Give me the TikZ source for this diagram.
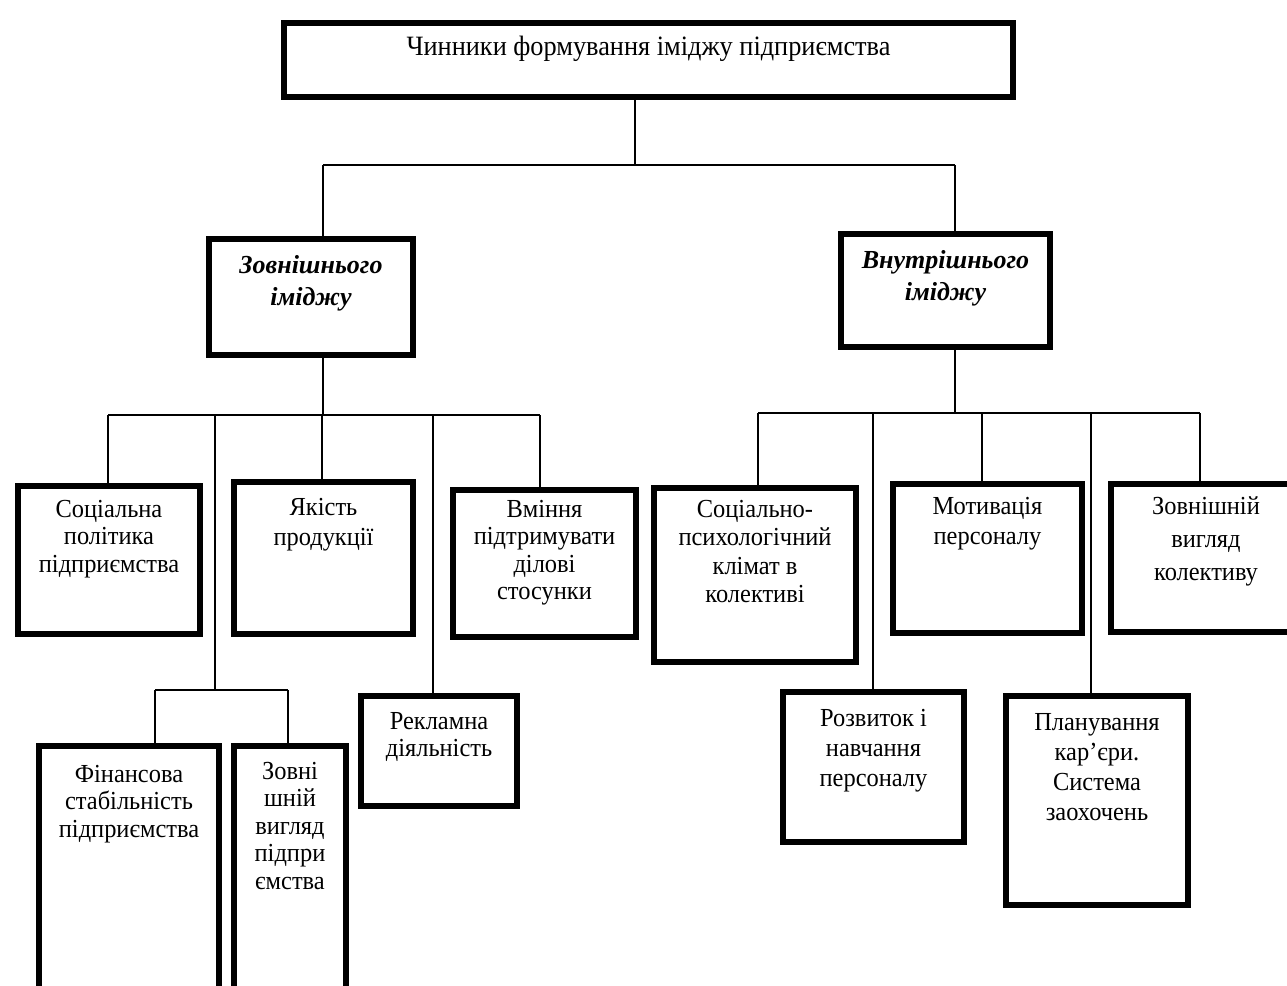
\documentclass[tikz,border=0pt]{standalone}
\usepackage{fontspec}
\setmainfont{Liberation Serif}
\newfontfamily\boxserif[FakeStretch=0.94]{Liberation Serif}
\begin{document}
\begin{tikzpicture}[x=1pt,y=-1pt,
  box/.style={draw, line width=6pt, rectangle, inner sep=0pt, anchor=north west},
  lbl/.style={align=center, inner sep=0pt, anchor=north,
    execute at begin node={\rule{0pt}{20pt}},
    font=\boxserif\fontsize{26}{27.5}\selectfont},
  head/.style={lbl, font=\rmfamily\fontsize{26}{32}\selectfont\bfseries\itshape},
  conn/.style={line width=1.8pt}]
\useasboundingbox (0,0) rectangle (1287,985);
\clip (0,0) rectangle (1287,985);

% --- boxes ---
\node[box, minimum width=729pt, minimum height=74pt] (top) at (281,20) {};
\node[lbl, font=\boxserif\fontsize{28}{30}\selectfont] (topT) at ([yshift=-15pt]top.north) {Чинники формування іміджу підприємства};

\node[box, minimum width=204pt, minimum height=116pt] (zout) at (206,236) {};
\node[head] (zoutT) at ([yshift=-19pt]zout.north) {Зовнішнього\\ іміджу};

\node[box, minimum width=209pt, minimum height=113pt] (vin) at (838,231) {};
\node[head] (vinT) at ([yshift=-19pt]vin.north) {Внутрішнього\\ іміджу};

% external image factors
\node[box, minimum width=182pt, minimum height=148pt] (soc) at (15,483) {};
\node[lbl] (socT) at ([yshift=-17pt]soc.north) {Соціальна\\ політика\\ підприємства};

\node[box, minimum width=179pt, minimum height=152pt] (yak) at (231,479) {};
\node[lbl, font=\boxserif\fontsize{26}{30}\selectfont] (yakT) at ([yshift=-19pt]yak.north) {Якість\\ продукції};

\node[box, minimum width=183pt, minimum height=147pt] (vmin) at (450,487) {};
\node[lbl] (vminT) at ([yshift=-13pt]vmin.north) {Вміння\\ підтримувати\\ ділові\\ стосунки};

\node[box, minimum width=180pt, minimum height=270pt] (fin) at (36,743) {};
\node[lbl] (finT) at ([yshift=-22pt]fin.north) {Фінансова\\ стабільність\\ підприємства};

\node[box, minimum width=112pt, minimum height=270pt] (zovni) at (231,743) {};
\node[lbl] (zovniT) at ([yshift=-19pt]zovni.north) {Зовні\\ шній\\ вигляд\\ підпри\\ ємства};

\node[box, minimum width=156pt, minimum height=110pt] (rekl) at (358,693) {};
\node[lbl] (reklT) at ([yshift=-19pt]rekl.north) {Рекламна\\ діяльність};

% internal image factors
\node[box, minimum width=202pt, minimum height=174pt] (spk) at (651,485) {};
\node[lbl, font=\boxserif\fontsize{26}{28.5}\selectfont] (spkT) at ([yshift=-15pt]spk.north) {Соціально-\\ психологічний\\ клімат в\\ колективі};

\node[box, minimum width=189pt, minimum height=149pt] (motiv) at (890,481) {};
\node[lbl, font=\boxserif\fontsize{26}{30}\selectfont] (motivT) at ([yshift=-16pt]motiv.north) {Мотивація\\ персоналу};

\node[box, minimum width=190pt, minimum height=148pt] (zovv) at (1108,481) {};
\node[lbl, font=\boxserif\fontsize{26}{33}\selectfont] (zovvT) at ([yshift=-15pt]zovv.north) {Зовнішній\\ вигляд\\ колективу};

\node[box, minimum width=181pt, minimum height=150pt] (rozv) at (780,689) {};
\node[lbl, font=\boxserif\fontsize{26}{30}\selectfont] (rozvT) at ([yshift=-20pt]rozv.north) {Розвиток і\\ навчання\\ персоналу};

\node[box, minimum width=182pt, minimum height=209pt] (plan) at (1003,693) {};
\node[lbl, font=\boxserif\fontsize{26}{30}\selectfont] (planT) at ([yshift=-20pt]plan.north) {Планування\\ кар’єри.\\ Система\\ заохочень};

% --- connectors ---
\coordinate (busTop) at (635,165);
\coordinate (jL) at (323,165);
\coordinate (jR) at (955,165);
\draw[conn] (top.south -| busTop) -- (busTop);
\draw[conn] (jL) -- (jR);
\draw[conn] (jL) -- (jL |- zout.north);
\draw[conn] (jR) -- (jR |- vin.north);

% left group bus
\coordinate (lb1) at (108,415);
\coordinate (lb2) at (215,415);
\coordinate (lb3) at (322,415);
\coordinate (lb4) at (433,415);
\coordinate (lb5) at (540,415);
\draw[conn] (jL |- zout.south) -- (jL |- lb1);
\draw[conn] (lb1) -- (lb5);
\draw[conn] (lb1) -- (lb1 |- soc.north);
\draw[conn] (lb3) -- (lb3 |- yak.north);
\draw[conn] (lb5) -- (lb5 |- vmin.north);
\draw[conn] (lb4) -- (lb4 |- rekl.north);
\coordinate (fb) at (215,690);
\coordinate (fbL) at (155,690);
\coordinate (fbR) at (288,690);
\draw[conn] (lb2) -- (fb);
\draw[conn] (fbL) -- (fbR);
\draw[conn] (fbL) -- (fbL |- fin.north);
\draw[conn] (fbR) -- (fbR |- zovni.north);

% right group bus
\coordinate (rb1) at (758,413);
\coordinate (rb2) at (873,413);
\coordinate (rb3) at (982,413);
\coordinate (rb4) at (1091,413);
\coordinate (rb5) at (1200,413);
\draw[conn] (jR |- vin.south) -- (jR |- rb1);
\draw[conn] (rb1) -- (rb5);
\draw[conn] (rb1) -- (rb1 |- spk.north);
\draw[conn] (rb2) -- (rb2 |- rozv.north);
\draw[conn] (rb3) -- (rb3 |- motiv.north);
\draw[conn] (rb4) -- (rb4 |- plan.north);
\draw[conn] (rb5) -- (rb5 |- zovv.north);
\end{tikzpicture}
\end{document}
